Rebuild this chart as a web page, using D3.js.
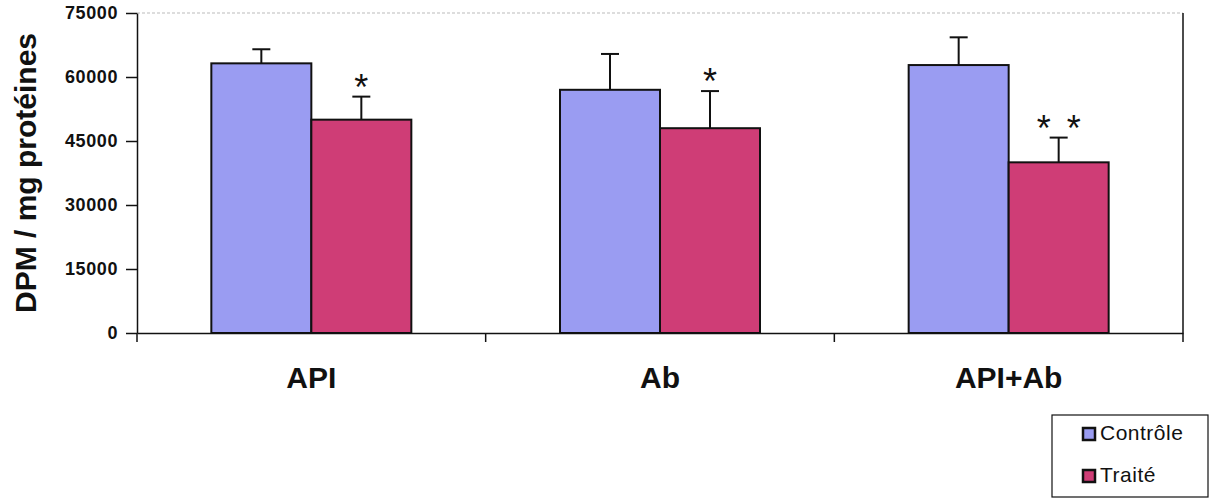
<!DOCTYPE html>
<html>
<head>
<meta charset="utf-8">
<script src="https://cdn.jsdelivr.net/npm/d3@7"></script>
<style>
  body { margin: 0; background: #fff; }
  text { font-family: "Liberation Sans", Arial, sans-serif; }
</style>
</head>
<body>
<script>
const categories = ['API', 'Ab', 'API+Ab'];
const series = ['Contrôle', 'Traité'];
const controle = [63200, 57000, 62800];
const controleErr = [3300, 8400, 6500];
const traite = [50000, 48000, 40000];
const traiteErr = [5400, 8700, 5800];
const starCount = [1, 1, 2];
const yTicks = [0, 15000, 30000, 45000, 60000, 75000];

const colors = { 'Contrôle': '#9a9cf2', 'Traité': '#cf3d76' };

const width = 1212, height = 500;
const margin = { top: 13, right: 29, bottom: 167, left: 137 };

const svg = d3.select('body').append('svg')
  .attr('width', width)
  .attr('height', height);

const plotW = width - margin.left - margin.right;
const plotH = height - margin.top - margin.bottom;

const g = svg.append('g')
  .attr('transform', `translate(${margin.left},${margin.top})`);

const x = d3.scaleBand().domain(categories).range([0, plotW]);
const xInner = d3.scaleBand().domain(series).range([0, 200]);
const y = d3.scaleLinear().domain([0, 75000]).range([plotH, 0]);

// plot frame
g.append('line')
  .attr('x1', 0).attr('x2', plotW).attr('y1', 0).attr('y2', 0)
  .style('stroke', '#bbb').style('stroke-width', 1)
  .style('stroke-dasharray', '3,2');
g.append('line')
  .attr('x1', plotW).attr('x2', plotW).attr('y1', 0).attr('y2', plotH)
  .style('stroke', '#111').style('stroke-width', 1.5);

const rows = [];
categories.forEach((c, i) => {
  rows.push({ cat: c, s: 'Contrôle', v: controle[i], e: controleErr[i], n: 0 });
  rows.push({ cat: c, s: 'Traité', v: traite[i], e: traiteErr[i], n: starCount[i] });
});

const barX = d => x(d.cat) + (x.bandwidth() - 200) / 2 + xInner(d.s);
const midX = d => barX(d) + xInner.bandwidth() / 2;

// error bars (behind bars)
const err = g.selectAll('.err').data(rows).enter().append('g');
err.append('line')
  .attr('x1', midX).attr('x2', midX)
  .attr('y1', d => y(d.v))
  .attr('y2', d => y(d.v + d.e))
  .style('stroke', '#111').style('stroke-width', 2);
err.append('line')
  .attr('x1', d => midX(d) - 9)
  .attr('x2', d => midX(d) + 9)
  .attr('y1', d => y(d.v + d.e))
  .attr('y2', d => y(d.v + d.e))
  .style('stroke', '#111').style('stroke-width', 2);

g.selectAll('.bar').data(rows).enter().append('rect')
  .attr('x', barX)
  .attr('y', d => y(d.v))
  .attr('width', xInner.bandwidth())
  .attr('height', d => plotH - y(d.v))
  .style('fill', d => colors[d.s])
  .style('stroke', '#111')
  .style('stroke-width', 2);

// significance stars
const starData = [];
rows.filter(d => d.n > 0).forEach(d => {
  for (let k = 0; k < d.n; k++) {
    starData.push({ x: midX(d) + (k - (d.n - 1) / 2) * 30, y: y(d.v + d.e) });
  }
});
g.selectAll('.star').data(starData).enter().append('text')
  .attr('x', d => d.x)
  .attr('y', d => d.y + 3)
  .attr('text-anchor', 'middle')
  .style('font-size', '36px').style('fill', '#111')
  .text('*');

// y axis
const yAxis = g.append('g')
  .call(d3.axisLeft(y).tickValues(yTicks).tickSize(11).tickSizeOuter(0).tickFormat(d3.format('d')));
yAxis.select('.domain').style('stroke', '#111').style('stroke-width', 1.5);
yAxis.selectAll('.tick line').style('stroke', '#111').style('stroke-width', 1.5);
yAxis.selectAll('.tick text')
  .attr('x', -19)
  .style('font-size', '18px').style('font-weight', 'bold')
  .style('letter-spacing', '0.6px').style('fill', '#111');

// x axis
const xAxis = g.append('g')
  .attr('transform', `translate(0,${plotH})`)
  .call(d3.axisBottom(x).tickSize(0).tickSizeOuter(0));
xAxis.select('.domain').style('stroke', '#111').style('stroke-width', 1.5);
xAxis.selectAll('.tick text')
  .attr('dy', 0).attr('y', 55)
  .style('font-size', '30px').style('font-weight', 'bold').style('fill', '#111');
xAxis.selectAll('.sep').data(d3.range(categories.length + 1)).enter().append('line')
  .attr('x1', i => i * x.step()).attr('x2', i => i * x.step())
  .attr('y1', 0).attr('y2', 9)
  .style('stroke', '#111').style('stroke-width', 1.5);

// y title
svg.append('text')
  .attr('transform', `translate(36,${margin.top + plotH / 2}) rotate(-90)`)
  .attr('text-anchor', 'middle')
  .style('font-size', '30px').style('font-weight', 'bold').style('fill', '#111')
  .text('DPM / mg protéines');

// legend
const lg = svg.append('g').attr('transform', 'translate(1052,415)');
lg.append('rect')
  .attr('width', 156).attr('height', 82)
  .style('fill', '#fff').style('stroke', '#111').style('stroke-width', 1.2);
const item = lg.selectAll('.item').data(series).enter().append('g')
  .attr('transform', (d, i) => `translate(37,${19 + i * 42})`);
item.append('rect')
  .attr('x', -6).attr('y', -6).attr('width', 12).attr('height', 12)
  .style('fill', d => colors[d]).style('stroke', '#111').style('stroke-width', 2.5);
item.append('text')
  .attr('x', 11).attr('y', 6)
  .style('font-size', '21px').style('letter-spacing', '0.5px').style('fill', '#111')
  .text(d => d);
</script>
</body>
</html>
